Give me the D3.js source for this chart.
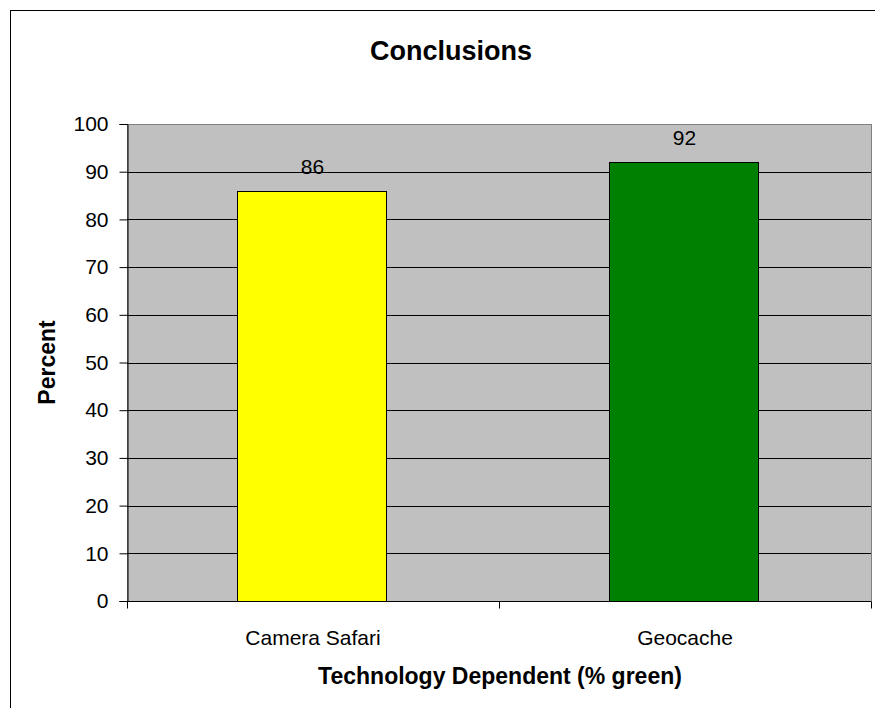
<!DOCTYPE html>
<html>
<head>
<meta charset="utf-8">
<script src="https://cdn.jsdelivr.net/npm/d3@7"></script>
<style>
  body { margin: 0; background: #fff; }
  text { font-family: "Liberation Sans", Arial, sans-serif; }
</style>
</head>
<body>
<div id="chart"></div>
<script>
// data
const categories = ["Camera Safari", "Geocache"];
const values = [86, 92];
const barColors = ["#ffff00", "#008000"];
const yTicks = [0, 10, 20, 30, 40, 50, 60, 70, 80, 90, 100];

const W = 875, H = 708;
const plot = {left: 127, top: 124, right: 871, bottom: 601};

const svg = d3.select("#chart")
    .append("svg")
    .attr("width", W)
    .attr("height", H);

// outer chart border
svg.append("rect")
    .attr("x", 10.5).attr("y", 10.5)
    .attr("width", W).attr("height", H)
    .attr("fill", "#fff")
    .attr("stroke", "#000")
    .attr("stroke-width", 1);

const x = d3.scaleBand()
    .domain(categories)
    .range([plot.left, plot.right])
    .paddingInner(0.6)
    .paddingOuter(0.3);

const xCat = d3.scaleBand()
    .domain(categories)
    .range([plot.left, plot.right]);

const y = d3.scaleLinear()
    .domain([0, 100])
    .range([plot.bottom, plot.top]);

// plot background
svg.append("rect")
    .attr("x", plot.left + 0.5).attr("y", plot.top + 0.5)
    .attr("width", plot.right - plot.left)
    .attr("height", plot.bottom - plot.top)
    .attr("fill", "#c0c0c0")
    .attr("stroke", "#808080")
    .attr("stroke-width", 1);

// gridlines
svg.append("g")
    .selectAll("line")
    .data(yTicks.filter(d => d > 0 && d < 100))
    .enter().append("line")
    .attr("x1", plot.left).attr("x2", plot.right)
    .attr("y1", d => Math.round(y(d)) + 0.5)
    .attr("y2", d => Math.round(y(d)) + 0.5)
    .attr("stroke", "#000")
    .attr("stroke-width", 1);

// bars
svg.append("g")
    .selectAll("rect")
    .data(values)
    .enter().append("rect")
    .attr("x", (d, i) => Math.floor(x(categories[i])) - 0.5)
    .attr("y", d => Math.round(y(d)) + 0.5)
    .attr("width", Math.round(x.bandwidth()))
    .attr("height", d => Math.round(y(0)) - Math.round(y(d)))
    .attr("fill", (d, i) => barColors[i])
    .attr("stroke", "#000")
    .attr("stroke-width", 1);

// value labels
svg.append("g")
    .selectAll("text")
    .data(values)
    .enter().append("text")
    .attr("x", (d, i) => x(categories[i]) + x.bandwidth() / 2 - 0.5)
    .attr("y", d => y(d) - 17)
    .attr("text-anchor", "middle")
    .style("font-size", "21px")
    .attr("fill", "#000")
    .text(d => d);

// y axis
const yAxis = svg.append("g")
    .attr("transform", `translate(${plot.left + 0.5},0)`)
    .call(d3.axisLeft(y).tickValues(yTicks).tickSize(8).tickPadding(11));
yAxis.selectAll("text").style("font-size", "21px").attr("fill", "#000");
yAxis.select(".domain").attr("stroke", "#000");
yAxis.selectAll(".tick line").attr("stroke", "#000");

// x axis
const xAxis = svg.append("g")
    .attr("transform", `translate(0,${plot.bottom + 0.5})`);
xAxis.append("line")
    .attr("x1", plot.left).attr("x2", plot.right)
    .attr("stroke", "#000");
xAxis.selectAll(".xtick")
    .data([plot.left, xCat(categories[1]), plot.right])
    .enter().append("line")
    .attr("x1", d => Math.round(d) + 0.5).attr("x2", d => Math.round(d) + 0.5)
    .attr("y1", 0).attr("y2", 7)
    .attr("stroke", "#000");
xAxis.selectAll("text")
    .data(categories)
    .enter().append("text")
    .attr("x", d => xCat(d) + xCat.bandwidth() / 2)
    .attr("y", 43)
    .attr("text-anchor", "middle")
    .style("font-size", "21px")
    .text(d => d);

// title
svg.append("text")
    .attr("x", 451)
    .attr("y", 60)
    .attr("text-anchor", "middle")
    .style("font-size", "27px")
    .style("font-weight", "bold")
    .text("Conclusions");

// axis titles
svg.append("text")
    .attr("x", 500)
    .attr("y", 684)
    .attr("text-anchor", "middle")
    .style("font-size", "23px")
    .style("font-weight", "bold")
    .text("Technology Dependent (% green)");

svg.append("text")
    .attr("transform", `translate(55,${(plot.top + plot.bottom) / 2}) rotate(-90)`)
    .attr("text-anchor", "middle")
    .style("font-size", "23px")
    .style("font-weight", "bold")
    .text("Percent");
</script>
</body>
</html>
